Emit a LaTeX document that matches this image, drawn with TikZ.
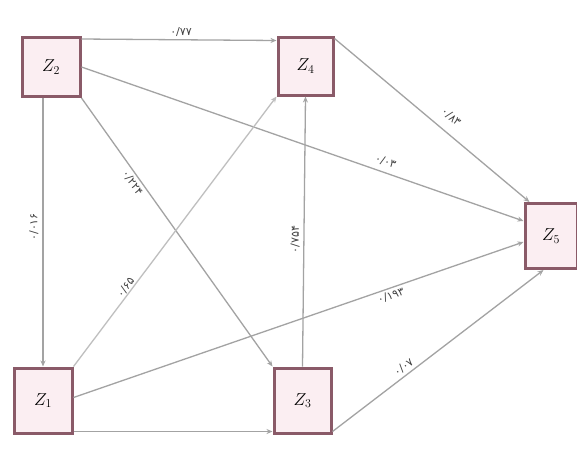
\documentclass[tikz,border=0pt]{standalone}
\usepackage{fontspec}
\newfontfamily\pfont{DejaVu Sans}
\usetikzlibrary{arrows.meta,calc}
\definecolor{boxc}{HTML}{8A5A68}
\definecolor{boxf}{HTML}{FBEEF2}
\definecolor{linec}{HTML}{A3A3A3}
\definecolor{labc}{HTML}{404040}
\begin{document}
\begin{tikzpicture}[x=1pt,y=-1pt,
  zbox/.style={draw=boxc, line width=3pt, fill=boxf, inner sep=0pt,
    font=\fontsize{17}{17}\selectfont},
  link/.style={draw=linec, line width=1.3pt, -{Stealth[length=6pt,width=5pt]}},
  wt/.style={font=\pfont\fontsize{11}{11}\selectfont, text=labc, inner sep=1.5pt, sloped}]
\useasboundingbox (0,0) rectangle (577,459);
\fill[white] (0,0) rectangle (577,459);

\node[zbox, minimum width=58pt, minimum height=59pt] (Z2) at (51,67) {$Z_2$};
\node[zbox, minimum width=55pt, minimum height=58pt] (Z4) at (305.5,66) {$Z_4$};
\node[zbox, minimum width=52pt, minimum height=65pt] (Z5) at (551,236) {$Z_5$};
\node[zbox, minimum width=58pt, minimum height=65pt] (Z1) at (43,400.5) {$Z_1$};
\node[zbox, minimum width=57pt, minimum height=65pt] (Z3) at (302.5,400.5) {$Z_3$};

% Z2 -> Z4
\draw[link] ([yshift=-3pt]Z2.north east) -- ([yshift=-5pt]Z4.north west)
  node[wt, pos=0.51, above=1pt] {۰/۷۷};
% Z4 -> Z5
\draw[link] ([yshift=-3pt]Z4.north east) -- ([xshift=6pt]Z5.north west)
  node[wt, pos=0.55, above=8pt] {۰/۸۳};
% Z2 -> Z5
\draw[link] (Z2.east) -- ([yshift=15pt]Z5.west)
  node[wt, pos=0.68, above=4pt] {۰/۰۳};
% Z2 -> Z3
\draw[link] (Z2.south east) -- (Z3.north west)
  node[wt, pos=0.3, below=1pt] {۰/۲۲۴};
% Z2 -> Z1
\draw[link] (Z1.north |- Z2.south) -- (Z1.north);
\path (Z1.north) -- (Z1.north |- Z2.south)
  node[wt, pos=0.52, above=3pt] {۰/۰۱۶};
% Z1 -> Z4
\draw[link, draw=linec!70] (Z1.north east) -- (Z4.south west)
  node[wt, pos=0.28, above=-1pt] {۰/۶۵};
% Z3 -> Z4
\draw[link] (Z3.north) -- (Z4.south)
  node[wt, pos=0.47, above=2pt] {۰/۷۵۴};
% Z1 -> Z5
\draw[link] ([yshift=3pt]Z1.east) -- ([yshift=-6pt]Z5.west)
  node[wt, pos=0.7, below=1pt] {۰/۱۹۳};
% Z3 -> Z5
\draw[link] ([yshift=3pt]Z3.south east) -- ([xshift=20pt]Z5.south west)
  node[wt, pos=0.36, above=1pt] {۰/۰۷};
% Z1 -> Z3
\draw[link] ([yshift=3pt]Z1.south east) -- ([yshift=3pt]Z3.south west);
\end{tikzpicture}
\end{document}
